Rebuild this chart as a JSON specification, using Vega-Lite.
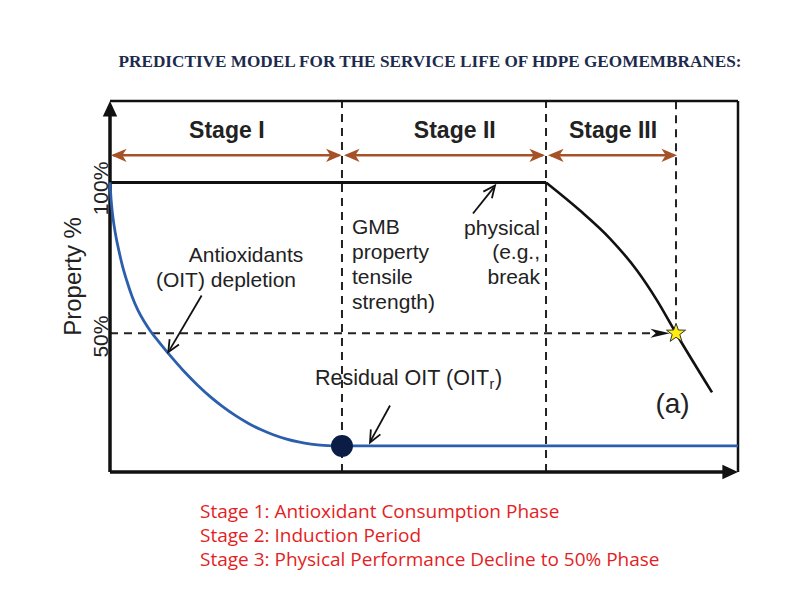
{
  "$schema": "https://vega.github.io/schema/vega-lite/v6.json",
  "width": 628,
  "height": 371,
  "autosize": {"type": "none"},
  "padding": {"left": 110, "top": 101, "right": 62, "bottom": 128},
  "background": "white",
  "config": {"view": {"stroke": null}},
  "datasets": {
    "segs": [
      {"k": "frame", "x": 0, "y": 127, "x2": 100, "y2": 127},
      {"k": "frame", "x": 100, "y": 127, "x2": 100, "y2": 4},
      {"k": "axis", "x": 0, "y": 4, "x2": 0, "y2": 124},
      {"k": "axis", "x": 0, "y": 4, "x2": 98, "y2": 4},
      {"k": "dash", "x": 36.94, "y": 4, "x2": 36.94, "y2": 127},
      {"k": "dash", "x": 69.43, "y": 4, "x2": 69.43, "y2": 127},
      {"k": "dash", "x": 90.13, "y": 50, "x2": 90.13, "y2": 127},
      {"k": "dash", "x": 0, "y": 50, "x2": 88, "y2": 50},
      {"k": "brown", "x": 0.5, "y": 109, "x2": 36.5, "y2": 109},
      {"k": "brown", "x": 37.7, "y": 109, "x2": 68.9, "y2": 109},
      {"k": "brown", "x": 70.2, "y": 109, "x2": 89.8, "y2": 109},
      {"k": "thin", "x": 14.59, "y": 62.53, "x2": 9.5, "y2": 44.5},
      {"k": "thin", "x": 57.8, "y": 89.72, "x2": 61.1, "y2": 98.3},
      {"k": "thin", "x": 44.59, "y": 26.06, "x2": 41.5, "y2": 14.3},
      {"k": "phys", "x": 0, "y": 100, "x2": 69.43, "y2": 100}
    ],
    "oit": [
      {"x": 0, "y": 100},
      {"x": 0.15, "y": 95},
      {"x": 0.3, "y": 91.5},
      {"x": 0.53, "y": 87.4},
      {"x": 0.9, "y": 82.6},
      {"x": 1.4, "y": 77.5},
      {"x": 2.0, "y": 72.2},
      {"x": 2.66, "y": 67.5},
      {"x": 3.5, "y": 62.3},
      {"x": 4.5, "y": 57.4},
      {"x": 5.5, "y": 53.7},
      {"x": 6.37, "y": 50.9},
      {"x": 8, "y": 46.6},
      {"x": 10, "y": 41.6},
      {"x": 12, "y": 36.9},
      {"x": 14, "y": 32.7},
      {"x": 16, "y": 28.9},
      {"x": 18, "y": 25.58},
      {"x": 20, "y": 22.67},
      {"x": 22, "y": 20.17},
      {"x": 24, "y": 18.06},
      {"x": 26, "y": 16.34},
      {"x": 28, "y": 14.97},
      {"x": 30, "y": 13.95},
      {"x": 32, "y": 13.24},
      {"x": 34, "y": 12.82},
      {"x": 36.94, "y": 12.63},
      {"x": 100, "y": 12.63}
    ],
    "phys": [
      {"x": 69.43, "y": 100},
      {"x": 74.84, "y": 90.7},
      {"x": 79.62, "y": 81.4},
      {"x": 83.92, "y": 70.8},
      {"x": 87.1, "y": 60.9},
      {"x": 90.13, "y": 50},
      {"x": 95.86, "y": 30.4}
    ],
    "heads": [
      {"k": "brown", "x": 0.16, "y": 109, "a": 270},
      {"k": "brown", "x": 36.89, "y": 109, "a": 90},
      {"k": "brown", "x": 37.26, "y": 109, "a": 270},
      {"k": "brown", "x": 69.27, "y": 109, "a": 90},
      {"k": "brown", "x": 69.75, "y": 109, "a": 270},
      {"k": "brown", "x": 90.3, "y": 109, "a": 90},
      {"k": "dash", "x": 89.17, "y": 50, "a": 90},
      {"k": "axis", "x": 0, "y": 127, "a": 0},
      {"k": "axis", "x": 100, "y": 4, "a": 90},
      {"k": "open", "x": 9.28, "y": 43.73, "a": 210},
      {"k": "open", "x": 61.31, "y": 99.0, "a": 38},
      {"k": "open", "x": 41.4, "y": 13.79, "a": 208}
    ],
    "spots": [
      {"k": "dot", "x": 36.94, "y": 12.63},
      {"k": "star", "x": 90.13, "y": 50}
    ],
    "labels": [
      {"k": "stage", "t": "Stage I", "x": 18.6, "y": 114.6},
      {"k": "stage", "t": "Stage II", "x": 54.9, "y": 114.6},
      {"k": "stage", "t": "Stage III", "x": 80.1, "y": 114.6},
      {"k": "mid", "t": "Antioxidants", "x": 21.66, "y": 73.57},
      {"k": "mid", "t": "(OIT) depletion", "x": 18.47, "y": 65.29},
      {"k": "left", "t": "GMB", "x": 38.54, "y": 82.76},
      {"k": "left", "t": "property", "x": 38.54, "y": 74.47},
      {"k": "left", "t": "tensile", "x": 38.54, "y": 66.18},
      {"k": "left", "t": "strength)", "x": 38.54, "y": 58.06},
      {"k": "right", "t": "physical", "x": 68.47, "y": 82.6},
      {"k": "right", "t": "(e.g.,", "x": 68.47, "y": 74.47},
      {"k": "right", "t": "break", "x": 68.47, "y": 66.35},
      {"k": "resid", "t": "Residual OIT (OIT", "x": 32.64, "y": 32.69},
      {"k": "resid", "t": ")", "x": 61.31, "y": 32.69},
      {"k": "sub", "t": "r", "x": 60.43, "y": 31.37},
      {"k": "panel", "t": "(a)", "x": 89.57, "y": 23.41},
      {"k": "ytitle", "t": "Property %", "x": -4.62, "y": 68.83},
      {"k": "ytick", "t": "100%", "x": -0.32, "y": 98.0},
      {"k": "ytick", "t": "50%", "x": -0.32, "y": 48.9},
      {"k": "title", "t": "PREDICTIVE MODEL FOR THE SERVICE LIFE OF HDPE GEOMEMBRANES:", "x": 50.96, "y": 139.93},
      {"k": "red", "t": "Stage 1: Antioxidant Consumption Phase", "x": 14.33, "y": -11.41},
      {"k": "red", "t": "Stage 2: Induction Period", "x": 14.33, "y": -19.36},
      {"k": "red", "t": "Stage 3: Physical Performance Decline to 50% Phase", "x": 14.33, "y": -27.32}
    ]
  },
  "encoding": {
    "x": {"field": "x", "type": "quantitative", "scale": {"domain": [0, 100], "nice": false, "zero": false}, "axis": null},
    "y": {"field": "y", "type": "quantitative", "scale": {"domain": [4, 127], "nice": false, "zero": false}, "axis": null}
  },
  "layer": [
    {
      "data": {"name": "segs"},
      "transform": [{"filter": "datum.k === 'dash'"}],
      "mark": {"type": "rule", "stroke": "#222222", "strokeWidth": 2, "strokeDash": [8, 6]},
      "encoding": {"x2": {"field": "x2"}, "y2": {"field": "y2"}}
    },
    {
      "data": {"name": "segs"},
      "transform": [{"filter": "datum.k === 'frame'"}],
      "mark": {"type": "rule", "stroke": "#111111", "strokeWidth": 2.5},
      "encoding": {"x2": {"field": "x2"}, "y2": {"field": "y2"}}
    },
    {
      "data": {"name": "segs"},
      "transform": [{"filter": "datum.k === 'axis'"}],
      "mark": {"type": "rule", "stroke": "#111111", "strokeWidth": 3.5},
      "encoding": {"x2": {"field": "x2"}, "y2": {"field": "y2"}}
    },
    {
      "data": {"name": "segs"},
      "transform": [{"filter": "datum.k === 'brown'"}],
      "mark": {"type": "rule", "stroke": "#a65228", "strokeWidth": 2.5},
      "encoding": {"x2": {"field": "x2"}, "y2": {"field": "y2"}}
    },
    {
      "data": {"name": "segs"},
      "transform": [{"filter": "datum.k === 'thin'"}],
      "mark": {"type": "rule", "stroke": "#111111", "strokeWidth": 1.8},
      "encoding": {"x2": {"field": "x2"}, "y2": {"field": "y2"}}
    },
    {
      "data": {"name": "segs"},
      "transform": [{"filter": "datum.k === 'phys'"}],
      "mark": {"type": "rule", "stroke": "#111111", "strokeWidth": 3},
      "encoding": {"x2": {"field": "x2"}, "y2": {"field": "y2"}}
    },
    {
      "data": {"name": "oit"},
      "mark": {"type": "line", "color": "#2b5fad", "strokeWidth": 2.8, "interpolate": "monotone"}
    },
    {
      "data": {"name": "phys"},
      "mark": {"type": "line", "color": "#111111", "strokeWidth": 2.6, "interpolate": "monotone"}
    },
    {
      "data": {"name": "heads"},
      "transform": [{"filter": "datum.k === 'brown'"}],
      "mark": {"type": "point", "shape": "M0,0 L0.55,1.3 L0,0.95 L-0.55,1.3 Z", "filled": true, "color": "#a65228", "opacity": 1, "size": 576},
      "encoding": {"angle": {"field": "a", "type": "quantitative", "scale": null}}
    },
    {
      "data": {"name": "heads"},
      "transform": [{"filter": "datum.k === 'dash'"}],
      "mark": {"type": "point", "shape": "M0,0 L0.35,1.5 L0,1.1 L-0.35,1.5 Z", "filled": true, "color": "#111111", "opacity": 1, "size": 676},
      "encoding": {"angle": {"field": "a", "type": "quantitative", "scale": null}}
    },
    {
      "data": {"name": "heads"},
      "transform": [{"filter": "datum.k === 'axis'"}],
      "mark": {"type": "point", "shape": "M0,0 L0.6,1.3 L-0.6,1.3 Z", "filled": true, "color": "#111111", "opacity": 1, "size": 576},
      "encoding": {"angle": {"field": "a", "type": "quantitative", "scale": null}}
    },
    {
      "data": {"name": "heads"},
      "transform": [{"filter": "datum.k === 'open'"}],
      "mark": {"type": "point", "shape": "M-0.45,1 L0,0 L0.45,1", "filled": false, "stroke": "#111111", "strokeWidth": 1.8, "opacity": 1, "size": 576},
      "encoding": {"angle": {"field": "a", "type": "quantitative", "scale": null}}
    },
    {
      "data": {"name": "spots"},
      "transform": [{"filter": "datum.k === 'dot'"}],
      "mark": {"type": "point", "shape": "circle", "filled": true, "color": "#0b1d45", "opacity": 1, "size": 484}
    },
    {
      "data": {"name": "spots"},
      "transform": [{"filter": "datum.k === 'star'"}],
      "mark": {"type": "point", "shape": "M0,-1 L0.235,-0.324 L0.951,-0.309 L0.38,0.124 L0.588,0.809 L0,0.4 L-0.588,0.809 L-0.38,0.124 L-0.951,-0.309 L-0.235,-0.324 Z", "filled": true, "fill": "#ffee10", "stroke": "#333333", "strokeWidth": 1, "opacity": 1, "size": 400}
    },
    {
      "data": {"name": "labels"},
      "transform": [{"filter": "datum.k === 'stage'"}],
      "mark": {"type": "text", "font": "Liberation Sans", "fontWeight": "bold", "fontSize": 23, "align": "center", "baseline": "alphabetic", "color": "#222222"},
      "encoding": {"text": {"field": "t", "type": "nominal"}}
    },
    {
      "data": {"name": "labels"},
      "transform": [{"filter": "datum.k === 'mid'"}],
      "mark": {"type": "text", "font": "Liberation Sans", "fontSize": 21, "align": "center", "baseline": "alphabetic", "color": "#222222"},
      "encoding": {"text": {"field": "t", "type": "nominal"}}
    },
    {
      "data": {"name": "labels"},
      "transform": [{"filter": "datum.k === 'left'"}],
      "mark": {"type": "text", "font": "Liberation Sans", "fontSize": 21, "align": "left", "baseline": "alphabetic", "color": "#222222"},
      "encoding": {"text": {"field": "t", "type": "nominal"}}
    },
    {
      "data": {"name": "labels"},
      "transform": [{"filter": "datum.k === 'right'"}],
      "mark": {"type": "text", "font": "Liberation Sans", "fontSize": 21, "align": "right", "baseline": "alphabetic", "color": "#222222"},
      "encoding": {"text": {"field": "t", "type": "nominal"}}
    },
    {
      "data": {"name": "labels"},
      "transform": [{"filter": "datum.k === 'resid'"}],
      "mark": {"type": "text", "font": "Liberation Sans", "fontSize": 21.5, "align": "left", "baseline": "alphabetic", "color": "#222222"},
      "encoding": {"text": {"field": "t", "type": "nominal"}}
    },
    {
      "data": {"name": "labels"},
      "transform": [{"filter": "datum.k === 'sub'"}],
      "mark": {"type": "text", "font": "Liberation Sans", "fontSize": 14, "align": "left", "baseline": "alphabetic", "color": "#222222"},
      "encoding": {"text": {"field": "t", "type": "nominal"}}
    },
    {
      "data": {"name": "labels"},
      "transform": [{"filter": "datum.k === 'panel'"}],
      "mark": {"type": "text", "font": "Liberation Sans", "fontSize": 28, "align": "center", "baseline": "alphabetic", "color": "#222222"},
      "encoding": {"text": {"field": "t", "type": "nominal"}}
    },
    {
      "data": {"name": "labels"},
      "transform": [{"filter": "datum.k === 'ytitle'"}],
      "mark": {"type": "text", "font": "Liberation Sans", "fontSize": 24, "angle": 270, "align": "center", "baseline": "alphabetic", "color": "#222222"},
      "encoding": {"text": {"field": "t", "type": "nominal"}}
    },
    {
      "data": {"name": "labels"},
      "transform": [{"filter": "datum.k === 'ytick'"}],
      "mark": {"type": "text", "font": "Liberation Sans", "fontSize": 21, "angle": 270, "align": "center", "baseline": "alphabetic", "color": "#222222"},
      "encoding": {"text": {"field": "t", "type": "nominal"}}
    },
    {
      "data": {"name": "labels"},
      "transform": [{"filter": "datum.k === 'title'"}],
      "mark": {"type": "text", "font": "Liberation Serif", "fontWeight": "bold", "fontSize": 17.2, "align": "center", "baseline": "middle", "color": "#1c2b4d"},
      "encoding": {"text": {"field": "t", "type": "nominal"}}
    },
    {
      "data": {"name": "labels"},
      "transform": [{"filter": "datum.k === 'red'"}],
      "mark": {"type": "text", "font": "Open Sans", "fontSize": 19, "align": "left", "baseline": "alphabetic", "color": "#e31e24"},
      "encoding": {"text": {"field": "t", "type": "nominal"}}
    }
  ]
}
